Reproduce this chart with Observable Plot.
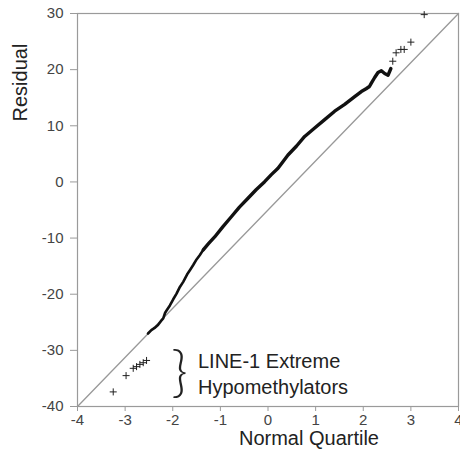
<!DOCTYPE html>
<html>
<head>
<meta charset="utf-8">
<script src="https://cdn.jsdelivr.net/npm/d3@7"></script>
<script src="https://cdn.jsdelivr.net/npm/@observablehq/plot@0.6"></script>
<style>
  html, body { margin: 0; padding: 0; background: #fff; }
</style>
</head>
<body>
<div id="chart"></div>
<script>
// Dense part of the Q-Q curve (normal quartile, residual)
const curveQ = [-2.52,-2.45,-2.38,-2.31,-2.25,-2.20,-2.16,-2.13,-2.06,-1.99,-1.92,-1.85,-1.78,-1.70,-1.63,-1.57,-1.50,-1.43,-1.36,-1.25,-1.12,-0.95,-0.77,-0.60,-0.42,-0.25,-0.07,0.07,0.21,0.42,0.60,0.77,0.98,1.19,1.40,1.61,1.82,1.96,2.06,2.13,2.17,2.24,2.31,2.38,2.45,2.52,2.58];
const curveR = [-27.0,-26.4,-26.0,-25.5,-24.8,-24.3,-23.3,-22.9,-22.0,-20.9,-19.9,-18.7,-17.8,-16.5,-15.6,-14.8,-13.8,-13.0,-12.1,-11.0,-9.8,-8.0,-6.2,-4.5,-2.9,-1.4,0.05,1.3,2.45,4.8,6.4,8.1,9.6,11.1,12.6,13.8,15.2,16.1,16.6,17.0,17.6,18.6,19.5,19.8,19.3,19.0,20.2];

// Sparse tail points
const tailQ = [-3.25,-2.98,-2.83,-2.76,-2.69,-2.62,-2.55,2.62,2.69,2.79,2.86,3.00,3.28];
const tailR = [-37.4,-34.5,-33.2,-32.9,-32.5,-32.2,-31.8,21.5,23.0,23.6,23.6,24.9,29.8];

// Reference line (corner to corner)
const refQ = [-4, 4];
const refR = [-40, 30];

// Ticks
const xTicks = [-4,-3,-2,-1,0,1,2,3,4];
const yTicks = [-40,-30,-20,-10,0,10,20,30];

// Texts
const xTitle = "Normal Quartile";
const yTitle = "Residual";
const annotation = "LINE-1 Extreme\nHypomethylators";
const annotQ = -1.47, annotR = -33.9;
const braceQ = -1.86, braceR = -34.1;
const xTitlePos = {q: 0.86, r: -45.8};
const yTitlePos = {q: -5.2, r: 17.7};

const curve = curveQ.map((q, i) => ({q, r: curveR[i]}));
const lowerCurve = curve.filter(d => d.q <= -1.36);
const upperCurve = curve.filter(d => d.q >= -1.36);
const tail = tailQ.map((q, i) => ({q, r: tailR[i]}));
const ref = refQ.map((q, i) => ({q, r: refR[i]}));

const font = "'Liberation Sans', Arial, Helvetica, sans-serif";
const fmt = d => String(d);

const chart = Plot.plot({
  width: 460,
  height: 452,
  marginLeft: 77,
  marginRight: 2,
  marginTop: 13,
  marginBottom: 46,
  style: {fontFamily: font, fontSize: "15px", color: "#444", background: "#fff"},
  x: {domain: [-4, 4], label: null},
  y: {domain: [-40, 30], label: null},
  marks: [
    Plot.frame({stroke: "#9a9a9a", strokeWidth: 1.2}),
    Plot.axisX({ticks: xTicks, tickFormat: fmt, tickSize: 5, tickPadding: 3, stroke: "#9a9a9a", fill: "#444", label: null}),
    Plot.axisY({ticks: yTicks, tickFormat: fmt, tickSize: 7, tickPadding: 7, stroke: "#9a9a9a", fill: "#444", label: null}),
    Plot.line(ref, {x: "q", y: "r", stroke: "#999", strokeWidth: 1.3}),
    Plot.line(lowerCurve, {x: "q", y: "r", stroke: "#111", strokeWidth: 2.6, strokeLinejoin: "round", strokeLinecap: "round"}),
    Plot.line(upperCurve, {x: "q", y: "r", stroke: "#111", strokeWidth: 3.4, strokeLinejoin: "round", strokeLinecap: "round"}),
    Plot.dot(tail, {x: "q", y: "r", symbol: "plus", r: 2.4, stroke: "#222", strokeWidth: 1}),
    Plot.text([annotation], {x: annotQ, y: annotR, text: d => d, textAnchor: "start", lineAnchor: "middle", lineHeight: 1.3, fontSize: 20, fill: "#222", fontFamily: font}),
    Plot.text(["}"], {x: braceQ, y: braceR, text: d => d, textAnchor: "middle", lineAnchor: "middle", fontSize: 56, fontWeight: 300, fill: "#222", fontFamily: "Lato, 'Open Sans', sans-serif"}),
    Plot.text([xTitle], {x: xTitlePos.q, y: xTitlePos.r, text: d => d, textAnchor: "middle", lineAnchor: "middle", fontSize: 20, fill: "#222", fontFamily: font}),
    Plot.text([yTitle], {x: yTitlePos.q, y: yTitlePos.r, rotate: -90, text: d => d, textAnchor: "middle", lineAnchor: "middle", fontSize: 20, fill: "#222", fontFamily: font})
  ]
});

document.getElementById("chart").appendChild(chart);
</script>
</body>
</html>
